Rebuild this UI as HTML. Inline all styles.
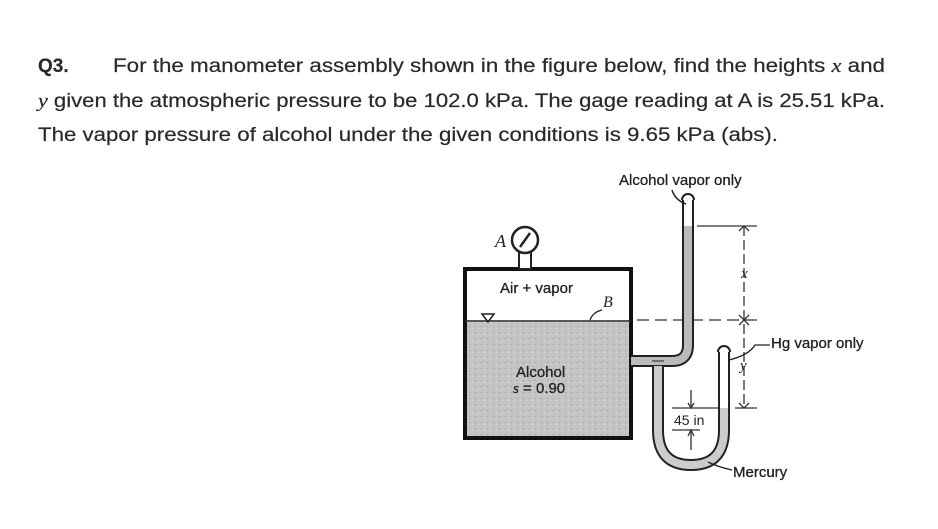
<!DOCTYPE html>
<html><head><meta charset="utf-8"><style>
html,body{margin:0;padding:0;background:#fff;}
svg{display:block;}
</style></head><body>
<svg width="938" height="529" viewBox="0 0 938 529" xmlns="http://www.w3.org/2000/svg" font-family="Liberation Sans, sans-serif">
<defs>
<pattern id="sp" width="6" height="6" patternUnits="userSpaceOnUse">
<rect width="6" height="6" fill="#c4c4c4"/><rect x="1" y="2" width="1" height="1" fill="#999"/><rect x="4" y="4" width="1" height="1" fill="#ddd"/>
</pattern>
</defs>
<g fill="#2a2a2a" font-size="19" stroke="#2a2a2a" stroke-width="0.2">
<text x="38" y="72" font-weight="bold">Q3.</text>
<text x="113" y="72" textLength="772" lengthAdjust="spacingAndGlyphs">For the manometer assembly shown in the figure below, find the heights <tspan font-family="Liberation Serif" font-style="italic">x</tspan> and</text>
<text x="38" y="107" textLength="847" lengthAdjust="spacingAndGlyphs"><tspan font-family="Liberation Serif" font-style="italic">y</tspan> given the atmospheric pressure to be 102.0 kPa. The gage reading at A is 25.51 kPa.</text>
<text x="38" y="141" textLength="740" lengthAdjust="spacingAndGlyphs">The vapor pressure of alcohol under the given conditions is 9.65 kPa (abs).</text>
</g>
<!-- tank -->
<rect x="465" y="322" width="166" height="116" fill="url(#sp)"/>
<rect x="465" y="269" width="166" height="169" fill="none" stroke="#111" stroke-width="4"/>
<line x1="465" y1="321" x2="631" y2="321" stroke="#222" stroke-width="1.5"/>
<polygon points="482,314 494,314 488,322" fill="none" stroke="#222" stroke-width="1.5"/>
<!-- gauge -->
<rect x="519" y="252" width="12" height="17" fill="#fff" stroke="#222" stroke-width="2"/>
<circle cx="525" cy="240" r="13" fill="#fff" stroke="#222" stroke-width="2.5"/>
<line x1="520" y1="247" x2="530" y2="233" stroke="#222" stroke-width="2.5"/>
<text x="495" y="247" font-family="Liberation Serif" font-style="italic" font-size="18" fill="#222">A</text>
<g font-size="15" fill="#222" stroke="#222" stroke-width="0.3">
<text x="500" y="293">Air + vapor</text>
<text x="516" y="377">Alcohol</text>
<text x="513" y="393"><tspan font-family="Liberation Serif" font-style="italic">s</tspan> = 0.90</text>
</g>
<text x="603" y="307" font-family="Liberation Serif" font-style="italic" font-size="16" fill="#222">B</text>
<path d="M590,320 q3,-8 12,-10" fill="none" stroke="#222" stroke-width="1.3"/>
<!-- dashed lines -->
<g stroke="#333" stroke-width="1.3" fill="none">
<line x1="637" y1="320" x2="757" y2="320" stroke-dasharray="12,6"/>
<line x1="697" y1="226" x2="757" y2="226"/>
<line x1="735" y1="408" x2="757" y2="408"/>
<line x1="744" y1="226" x2="744" y2="408" stroke-dasharray="10,4"/>
<line x1="672" y1="408" x2="720" y2="408"/>
<line x1="672" y1="430" x2="700" y2="430"/>
<line x1="691" y1="390" x2="691" y2="408"/>
<line x1="691" y1="430" x2="691" y2="450"/>
</g>
<path d="M739,231 l5,-5 l5,5 M739,315 l5,5 l5,-5 M739,325 l5,-5 l5,5 M739,403 l5,5 l5,-5 M688,403 l3,5 l3,-5 M688,436 l3,-6 l3,6" fill="none" stroke="#333" stroke-width="1.3"/>
<text x="741" y="278" font-family="Liberation Serif" font-style="italic" font-size="15" fill="#222">x</text>
<text x="740" y="370" font-family="Liberation Serif" font-style="italic" font-size="15" fill="#222">y</text>
<text x="674" y="425" font-size="14" fill="#222">45 in</text>
<!-- tubes -->
<g fill="none" stroke-linecap="butt">
<path d="M688,200 L688,345 Q688,361 672,361 L631,361" stroke="#222" stroke-width="12"/>
<path d="M688,200 L688,345 Q688,361 672,361 L631,361" stroke="#bbb" stroke-width="8"/>
<path d="M688,200 L688,226" stroke="#fff" stroke-width="8"/>
<path d="M658,366 L658,430 Q658,465 691,465 Q724,465 724,430 L724,352" stroke="#222" stroke-width="12"/>
<path d="M658,366 L658,430 Q658,465 691,465 Q724,465 724,430 L724,352" stroke="#ccc" stroke-width="8"/>
<path d="M724,352 L724,408" stroke="#fff" stroke-width="8"/>
</g>
<path d="M682,200 A6,6 0 0 1 694,200" fill="#fff" stroke="#222" stroke-width="2"/>
<path d="M718,352 A6,6 0 0 1 730,352" fill="#fff" stroke="#222" stroke-width="2"/>
<line x1="652" y1="361" x2="664" y2="361" stroke="#222" stroke-width="1"/>
<!-- labels -->
<g font-size="15" fill="#222" stroke="#222" stroke-width="0.3">
<text x="619" y="185">Alcohol vapor only</text>
<text x="771" y="348">Hg vapor only</text>
<text x="733" y="477">Mercury</text>
</g>
<path d="M672,190 q3,10 14,14" fill="none" stroke="#222" stroke-width="1.5"/>
<path d="M729,360 q20,-5 26,-15 l15,0" fill="none" stroke="#222" stroke-width="1.3"/>
<path d="M708,462 q10,5 24,8" fill="none" stroke="#222" stroke-width="1.3"/>
</svg>
</body></html>
